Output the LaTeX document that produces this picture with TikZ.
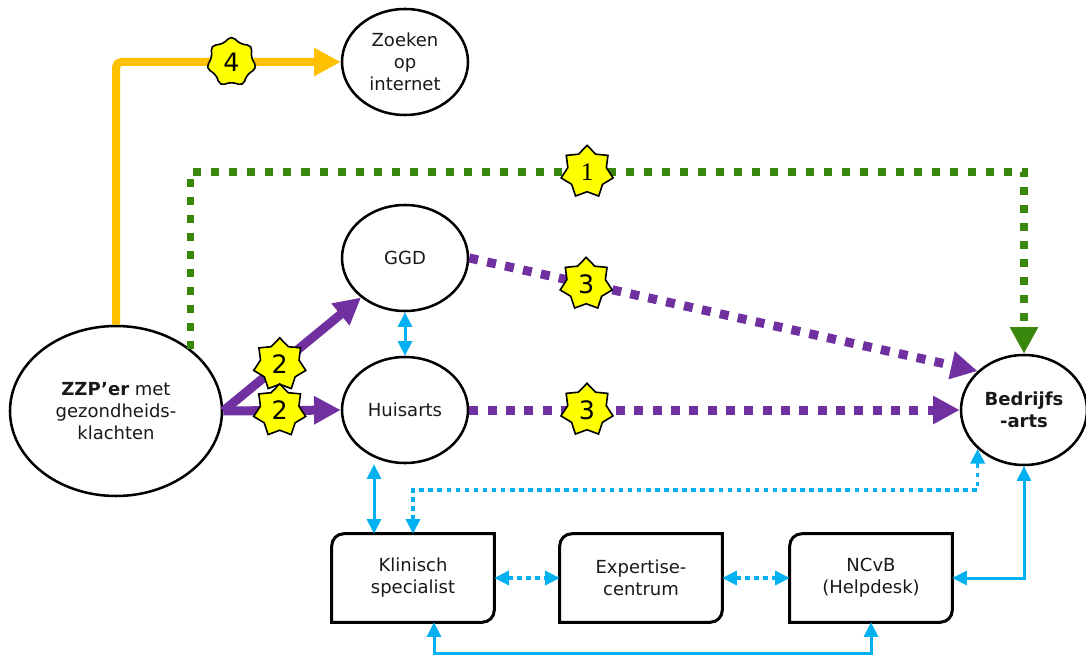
\documentclass[tikz,border=0pt]{standalone}
\usepackage{fontspec}
\setmainfont{DejaVu Sans}
\newfontfamily\serifcijfer{Liberation Serif}
\usepackage{xcolor}
\usetikzlibrary{shapes.geometric,arrows.meta,calc}
\definecolor{geel}{HTML}{FFC000}
\definecolor{paars}{HTML}{7030A0}
\definecolor{groen}{HTML}{3A870E}
\definecolor{blauw}{HTML}{00B0F0}
\definecolor{sterkleur}{HTML}{FFFF00}
\tikzset{
	tekst/.style={font=\fontsize{13.5}{16.5}\selectfont, text=black!90, align=center},
	bol/.style={tekst, ellipse, draw=black, line width=1.9pt,
			minimum width=94.5pt, minimum height=79.5pt, inner sep=0pt},
	kaart/.style={tekst, minimum width=121.5pt, minimum height=66pt, inner sep=0pt},
	kader/.style={line width=2.25pt},
	ster/.style={star, star points=7, star point ratio=1.35, minimum size=40pt,
			inner sep=0pt, fill=sterkleur, draw=black, line width=1.2pt,
			font=\fontsize{19}{19}\selectfont},
	grotepunt/.style={-{Triangle[length=20pt,width=20pt]}},
	kleinepunt/.style={{Triangle[length=11pt,width=10.5pt]}-{Triangle[length=11pt,width=10.5pt]}},
	geelpijl/.style={grotepunt, draw=geel, line width=6pt, rounded corners=4pt},
	groenpijl/.style={grotepunt, draw=groen, line width=5.5pt,
			dash pattern=on 6pt off 7.5pt},
	paarspijl/.style={grotepunt, draw=paars, line width=6.75pt},
	paarsstip/.style={grotepunt, draw=paars, line width=6.75pt,
			dash pattern=on 6.75pt off 7pt},
	blauwpijl/.style={kleinepunt, draw=blauw, line width=2.25pt},
	blauwstip/.style={kleinepunt, draw=blauw, line width=2.6pt,
			dash pattern=on 3.4pt off 3.4pt}
}

\begin{document}
\begin{tikzpicture}[x=0.75pt, y=-0.75pt]
	\useasboundingbox (0,0) rectangle (1086,656);

	\node[bol, minimum width=159pt, minimum height=127.5pt] (zzp) at (116,411)
		{\textbf{ZZP’er} met\\gezondheids-\\klachten};
	\node[bol] (zoeken) at (405,62) {Zoeken\\op\\internet};
	\node[bol] (ggd) at (405,258) {GGD};
	\node[bol] (huisarts) at (405,410) {Huisarts};
	\node[bol, minimum height=82.5pt, font=\fontsize{13.5}{16.5}\selectfont\bfseries]
		(bedrijfs) at (1024,410) {Bedrijfs\\-arts};

	\node[kaart] (klinisch) at (413,578) {Klinisch\\specialist};
	\node[kaart] (expertise) at (641,578) {Expertise-\\centrum};
	\node[kaart] (ncvb) at (871,578) {NCvB\\(Helpdesk)};
	\foreach \n in {klinisch,expertise,ncvb}
		\draw[kader] (\n.south west) -- ([yshift=-9pt]\n.north west)
			arc[start angle=180, end angle=90, radius=9pt] -- (\n.north east)
			-- ([yshift=9pt]\n.south east)
			arc[start angle=0, end angle=-90, radius=9pt] -- cycle;

	% hulppunten voor de geknikte lijnen
	\coordinate (groenhoek) at (bedrijfs.north |- 0,172);
	\coordinate (stiphoek) at (bedrijfs.220 |- 0,490);
	\coordinate (onderhoek) at (ncvb.south |- 0,653);

	\draw[geelpijl] (zzp.north) |- node[ster, pos=0.757] {4} (zoeken.west);
	\draw[groenpijl] (zzp.40) |- node[ster, pos=0.738, solid] {\serifcijfer 1} (groenhoek)
		-- (bedrijfs.north);
	\draw[paarspijl] (zzp.east) -- node[ster, pos=0.41] {2} (ggd.222);
	\draw[paarspijl] (zzp.east) -- node[ster, pos=0.48] {2} (huisarts.west);
	\draw[paarsstip] (ggd.east) -- node[ster, pos=0.23, solid] {3} (bedrijfs.140);
	\draw[paarsstip] (huisarts.east) -- node[ster, pos=0.24, solid] {3} (bedrijfs.west);

	\draw[blauwpijl] (ggd.south) -- (huisarts.north);
	\draw[blauwpijl] ([xshift=-29.25pt]klinisch.north |- huisarts.south)
		-- ([xshift=-29.25pt]klinisch.north);
	\draw[blauwstip] (klinisch.north) |- (stiphoek) -- (bedrijfs.220);
	\draw[blauwstip] (klinisch.east) -- (expertise.west);
	\draw[blauwstip] (expertise.east) -- (ncvb.west);
	\draw[blauwpijl] (bedrijfs.south) |- (ncvb.east);
	\draw[blauwpijl] ([xshift=15.75pt]klinisch.south) |- (onderhoek) -- (ncvb.south);
\end{tikzpicture}
\end{document}
